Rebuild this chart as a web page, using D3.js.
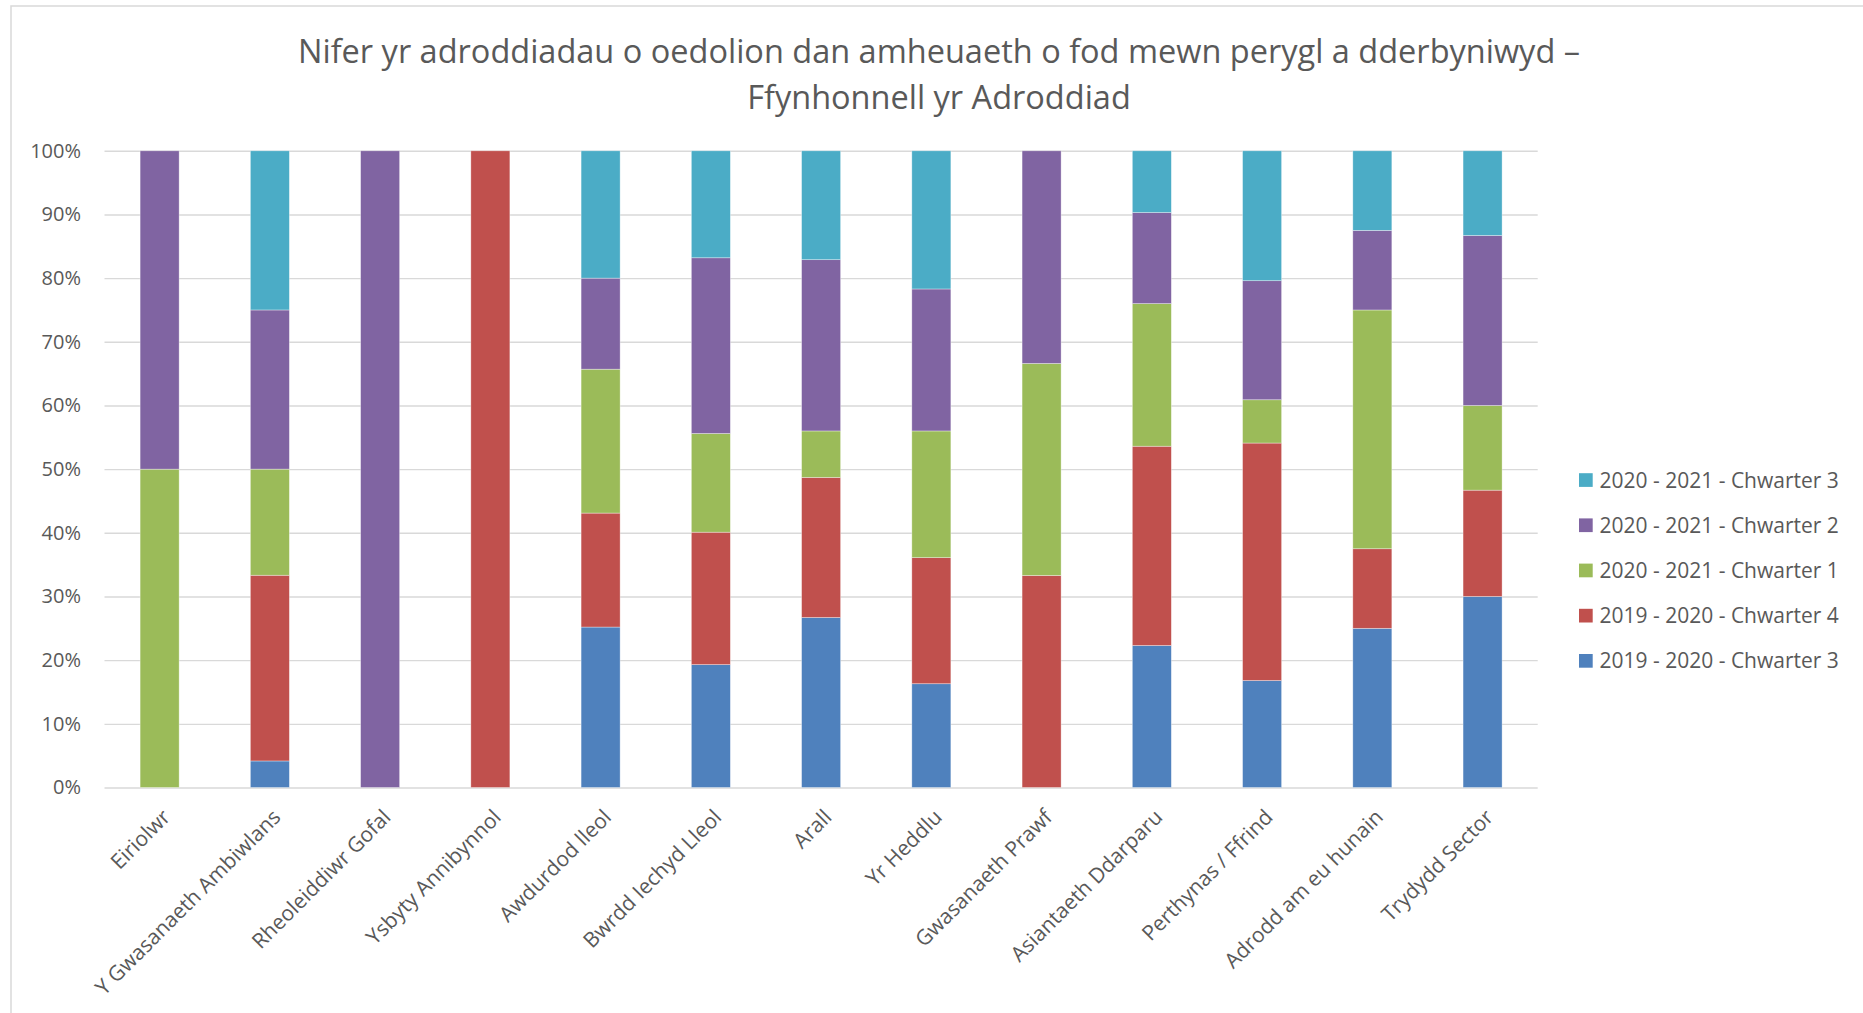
<!DOCTYPE html>
<html>
<head>
<meta charset="utf-8">
<script src="https://cdn.jsdelivr.net/npm/d3@7"></script>
<style>
  body { margin: 0; background: #fff; }
  text { font-family: "Open Sans", sans-serif; fill: #595959; }
</style>
</head>
<body>
<div id="chart"></div>
<script>
var categories = ["Eiriolwr", "Y Gwasanaeth Ambiwlans", "Rheoleiddiwr Gofal", "Ysbyty Annibynnol",
    "Awdurdod lleol", "Bwrdd Iechyd Lleol", "Arall", "Yr Heddlu", "Gwasanaeth Prawf",
    "Asiantaeth Ddarparu", "Perthynas / Ffrind", "Adrodd am eu hunain", "Trydydd Sector"];

var seriesNames = ["2019 - 2020 - Chwarter 3", "2019 - 2020 - Chwarter 4",
    "2020 - 2021 - Chwarter 1", "2020 - 2021 - Chwarter 2", "2020 - 2021 - Chwarter 3"];

// share of reports per quarter (%)
var q3_1920 = [0, 4.17, 0, 0, 25.2, 19.3, 26.7, 16.3, 0, 22.3, 16.8, 25, 30];
var q4_1920 = [0, 29.17, 0, 100, 17.9, 20.8, 22.0, 19.8, 33.3, 31.3, 37.3, 12.5, 16.7];
var q1_2021 = [50, 16.67, 0, 0, 22.6, 15.5, 7.3, 19.9, 33.3, 22.4, 6.8, 37.5, 13.3];
var q2_2021 = [50, 25, 100, 0, 14.3, 27.6, 26.9, 22.3, 33.4, 14.3, 18.7, 12.5, 26.7];
var q3_2021 = [0, 25, 0, 0, 20.0, 16.8, 17.1, 21.7, 0, 9.7, 20.4, 12.5, 13.3];

var yTicks = [0, 0.1, 0.2, 0.3, 0.4, 0.5, 0.6, 0.7, 0.8, 0.9, 1];

var colors = ["#4F81BD", "#C0504D", "#9BBB59", "#8064A2", "#4BACC6"];

var fullwidth = 1863, fullheight = 1013;
var plot = {left: 104.5, right: 1537.7, top: 150.8, bottom: 787.5};

var allSeries = [q3_1920, q4_1920, q1_2021, q2_2021, q3_2021];
var rows = categories.map(function(c, i) {
    var r = {category: c};
    seriesNames.forEach(function(s, j) { r[s] = allSeries[j][i]; });
    return r;
});

var stacked = d3.stack()
    .keys(seriesNames)
    .offset(d3.stackOffsetExpand)(rows);

var svg = d3.select("#chart").append("svg")
    .attr("width", fullwidth)
    .attr("height", fullheight);

svg.append("rect")
    .attr("x", 0).attr("y", 0)
    .attr("width", fullwidth).attr("height", fullheight)
    .attr("fill", "#fff");

// chart frame
svg.append("rect")
    .attr("x", 11).attr("y", 6)
    .attr("width", 1900).attr("height", 1100)
    .attr("fill", "none")
    .attr("stroke", "#d9d9d9")
    .attr("stroke-width", 1.5);

// excel style: every category gets the same slot, bar centred in it
var xScale = d3.scaleBand()
    .domain(categories)
    .range([plot.left, plot.right])
    .paddingInner(0.646)
    .paddingOuter(0.323);

var yScale = d3.scaleLinear()
    .domain([0, 1])
    .range([plot.bottom, plot.top]);

// gridlines + y labels
var yAxis = d3.axisLeft(yScale)
    .tickValues(yTicks)
    .tickFormat(d3.format(".0%"))
    .tickSize(-(plot.right - plot.left))
    .tickPadding(23.5);

var gy = svg.append("g")
    .attr("transform", "translate(" + plot.left + ",0)")
    .call(yAxis);
gy.select(".domain").remove();
gy.selectAll("line")
    .attr("stroke", "#d9d9d9")
    .attr("stroke-width", 1.4);
gy.selectAll("text")
    .style("font-family", "'Open Sans', sans-serif")
    .style("font-size", "20px")
    .attr("fill", "#595959");

// bars
var layers = svg.append("g").selectAll("g.layer")
    .data(stacked)
    .enter().append("g")
    .attr("class", "layer")
    .attr("fill", function(d, i) { return colors[i]; });

layers.selectAll("rect")
    .data(function(d) { return d; })
    .enter().append("rect")
    .attr("x", function(d) { return xScale(d.data.category); })
    .attr("width", xScale.bandwidth())
    .attr("y", function(d) { return yScale(d[1]); })
    .attr("height", function(d) { return yScale(d[0]) - yScale(d[1]); })
    .attr("stroke", "#fff")
    .attr("stroke-opacity", 0.5)
    .attr("stroke-width", function(d) { return d[1] - d[0] > 0 ? 0.7 : 0; });

// x axis (0% line already drawn by the grid)
var xAxis = d3.axisBottom(xScale).tickSize(0);
var gx = svg.append("g")
    .attr("transform", "translate(0," + plot.bottom + ")")
    .call(xAxis);
gx.select(".domain").remove();
gx.selectAll("text")
    .attr("y", null)
    .attr("dy", null)
    .attr("text-anchor", "end")
    .attr("transform", "translate(12,31) rotate(-45)")
    .style("font-family", "'Open Sans', sans-serif")
    .style("font-size", "21px")
    .attr("fill", "#595959");

// title
var title = svg.append("text")
    .attr("x", 939)
    .attr("text-anchor", "middle")
    .style("font-size", "32.5px");
title.append("tspan").attr("x", 939).attr("y", 62.5)
    .text("Nifer yr adroddiadau o oedolion dan amheuaeth o fod mewn perygl a dderbyniwyd \u2013");
title.append("tspan").attr("x", 939).attr("y", 109)
    .text("Ffynhonnell yr Adroddiad");

// legend, top entry = last series
var legend = svg.append("g").selectAll("g.leg")
    .data(seriesNames.slice().reverse())
    .enter().append("g")
    .attr("class", "leg")
    .attr("transform", function(d, i) { return "translate(1579," + (480 + i * 45.2) + ")"; });

legend.append("rect")
    .attr("x", 0).attr("y", -6.8)
    .attr("width", 13.7).attr("height", 13.7)
    .attr("fill", function(d) { return colors[seriesNames.indexOf(d)]; });

legend.append("text")
    .attr("x", 20.5)
    .attr("dy", "0.36em")
    .style("font-size", "21px")
    .text(function(d) { return d; });
</script>
</body>
</html>
